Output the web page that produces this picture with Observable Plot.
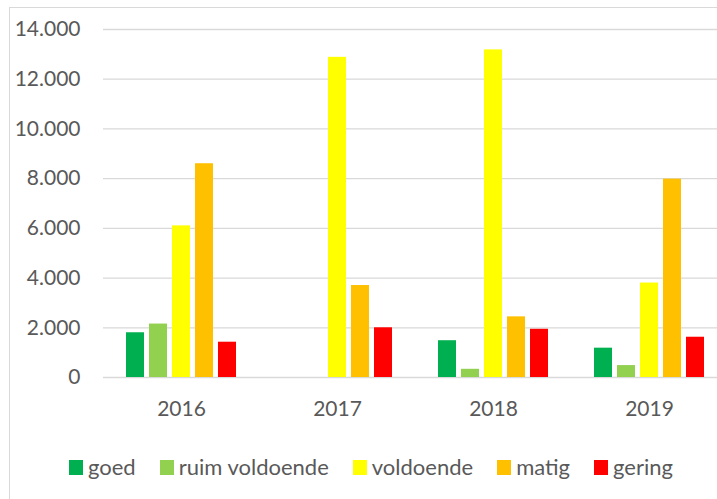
<!DOCTYPE html>
<html>
<head>
<meta charset="utf-8">
<script src="https://cdn.jsdelivr.net/npm/d3@7"></script>
<script src="https://cdn.jsdelivr.net/npm/@observablehq/plot@0.6"></script>
<style>
  html, body { margin: 0; padding: 0; background: #fff; }
  body { width: 717px; height: 499px; overflow: hidden; position: relative; font-family: Lato, "Open Sans", sans-serif; color: #595959; }
  #frame { position: absolute; left: 9px; top: 7px; width: 800px; height: 600px; border-left: 1px solid #d9d9d9; border-top: 1px solid #d9d9d9; box-sizing: border-box; }
  #chart { position: absolute; left: 0; top: 0; }
  #legend { position: absolute; left: 69px; top: 453px; display: flex; align-items: center; font-size: 22px; color: #595959; white-space: nowrap; }
  .item { display: flex; align-items: center; margin-right: 24px; }
  .sw { width: 14px; height: 15px; margin-right: 5px; margin-top: 2px; }
</style>
</head>
<body>
<div id="frame"></div>
<div id="chart"></div>
<div id="legend"></div>
<script>
const years = ["2016", "2017", "2018", "2019"];
const categories = ["goed", "ruim voldoende", "voldoende", "matig", "gering"];
const colors = ["#00b050", "#92d050", "#ffff00", "#ffc000", "#ff0000"];
const goed = [1800, 0, 1480, 1180];
const ruimVoldoende = [2150, 0, 330, 480];
const voldoende = [6100, 12880, 13180, 3800];
const matig = [8600, 3700, 2440, 7980];
const gering = [1420, 2000, 1940, 1620];
const yTicks = [0, 2000, 4000, 6000, 8000, 10000, 12000, 14000];

const series = [goed, ruimVoldoende, voldoende, matig, gering];
const data = [];
years.forEach((year, i) => {
  categories.forEach((cat, j) => {
    data.push({ year, cat, value: series[j][i] });
  });
});

const fmt = d => d3.format(",")(d).replace(/,/g, ".");

const chart = Plot.plot({
  width: 717,
  height: 430,
  marginLeft: 102,
  marginRight: -11,
  marginTop: 29,
  marginBottom: 53,
  style: { fontFamily: "Lato, 'Open Sans', sans-serif", fontSize: "21px", color: "#595959", background: "transparent", overflow: "visible" },
  fx: { domain: years, paddingInner: 0, paddingOuter: 0, label: null, tickSize: 0, tickPadding: 24 },
  x: { domain: categories, paddingInner: 0.22, paddingOuter: 0.87, axis: null },
  y: { domain: [0, 14000], ticks: yTicks, tickFormat: fmt, label: null, tickSize: 0, tickPadding: 23 },
  color: { domain: categories, range: colors },
  marks: [
    Plot.gridY(yTicks, { stroke: "#d9d9d9", strokeOpacity: 1, strokeWidth: 1.3 }),
    Plot.barY(data, { fx: "year", x: "cat", y: "value", fill: "cat" })
  ]
});
document.getElementById("chart").appendChild(chart);

const legend = document.getElementById("legend");
categories.forEach((cat, j) => {
  const item = document.createElement("div");
  item.className = "item";
  const sw = document.createElement("div");
  sw.className = "sw";
  sw.style.background = colors[j];
  const label = document.createElement("span");
  label.textContent = cat;
  item.appendChild(sw);
  item.appendChild(label);
  legend.appendChild(item);
});
</script>
</body>
</html>
